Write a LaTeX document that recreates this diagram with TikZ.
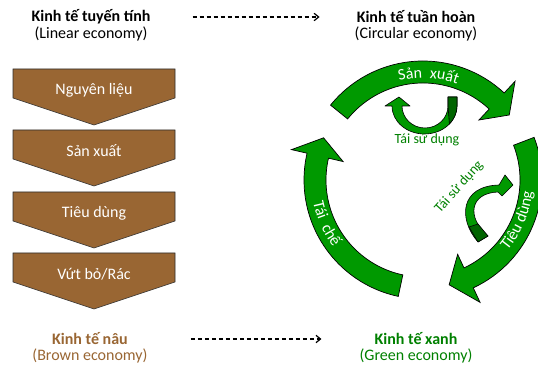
\documentclass[tikz,border=0pt]{standalone}
\usepackage{fontspec}
\setmainfont{Carlito}
\usepackage{tikz}
\usetikzlibrary{arrows.meta,decorations.text}
\definecolor{brownfill}{RGB}{153,102,51}
\definecolor{brownink}{RGB}{153,102,51}
\definecolor{ringfill}{RGB}{0,153,0}
\definecolor{greenink}{RGB}{0,128,0}
\definecolor{greendark}{RGB}{0,100,0}
\definecolor{lineedge}{RGB}{45,45,45}
\tikzset{
  chev/.style={draw=lineedge, fill=brownfill, line width=0.6pt, line join=miter},
  chevtext/.style={text=white, font=\fontsize{16}{18}\selectfont, inner sep=0pt},
  ring/.style={draw=black, fill=ringfill, line width=0.7pt, line join=miter},
  ribbon/.style={draw=black, fill=ringfill, line width=0.6pt, line join=round},
  ttl/.style={font=\fontsize{16}{18}\selectfont\bfseries, inner sep=0pt},
  subttl/.style={font=\fontsize{16}{18}\selectfont, inner sep=0pt},
  reuse/.style={text=greenink, font=\fontsize{14}{16}\selectfont, inner sep=0pt},
  dasharr/.style={-{Straight Barb[length=1.6mm,width=2.6mm]}, dash pattern=on 4.5pt off 2.5pt, line width=1.2pt},
  ringlabel/.style={decorate, decoration={text along path, text align=center,
    text={|\fontsize{16}{18}\selectfont\color{white}|#1}}}
}
\begin{document}
\begin{tikzpicture}[x=1pt, y=1pt]
  \useasboundingbox (0,0) rectangle (538,369);

  \node[ttl] (lin) at (91,352) {Kinh tế tuyến tính};
  \node[subttl] (linen) at (91,335) {(Linear economy)};
  \node[ttl] (circ) at (416,352) {Kinh tế tuần hoàn};
  \node[subttl] (circen) at (416,335) {(Circular economy)};
  \node[ttl, text=brownink] (brown) at (90,30) {Kinh tế nâu};
  \node[subttl, text=brownink] (brownen) at (90,13) {(Brown economy)};
  \node[ttl, text=greenink] (green) at (416,30) {Kinh tế xanh};
  \node[subttl, text=greenink] (greenen) at (416,13) {(Green economy)};
  \draw[dasharr, shorten <=42pt, shorten >=37pt] (lin.east) -- (circ.west);
  \draw[dasharr, shorten <=63pt, shorten >=53pt] (brown.east) -- (green.west);

  \foreach \n/\yy/\txt in {raw/300/Nguyên liệu, make/239/Sản xuất,
      use/177/Tiêu dùng, waste/116/{Vứt bỏ/Rác}} {
    \draw[chev] (13,\yy) -- (175,\yy) -- (175,\yy-29) -- (94,\yy-56)
      -- (13,\yy-29) -- cycle;
    \node[chevtext] (\n) at (94,\yy-21) {\txt};
  }

  \coordinate (c) at (423,189);
  \foreach \t/\b/\p in {141/47/37, 21/-65/-76, 258/167/157} {
    \draw[ring] ([shift={(\t:119)}]c) arc[start angle=\t, end angle=\b, radius=119]
      -- ([shift={(\b:135)}]c) -- ([shift={(\p:108)}]c) -- ([shift={(\b:82)}]c)
      -- ([shift={(\b:97)}]c) arc[start angle=\b, end angle=\t, radius=97] -- cycle;
  }
  \path[ringlabel={Sản {\ }xuất}] ([shift={(127:102)}]c)
    arc[start angle=127, end angle=47, radius=102];
  \path[ringlabel={Tiêu dùng}] ([shift={(-58:110)}]c)
    arc[start angle=-58, end angle=12, radius=110];
  \path[ringlabel={Tái {\ }chế}] ([shift={(169:112)}]c)
    arc[start angle=169, end angle=239, radius=112];

  \draw[ribbon] (457,272) -- (457,263)
    arc[start angle=0, end angle=-180, x radius=32.5, y radius=28]
    -- (385,263) -- (399,272) -- (410,263) -- (402,263)
    arc[start angle=180, end angle=360, x radius=23, y radius=22]
    -- (448,272) -- cycle;
  \draw[ribbon, fill=greendark] (448,272) -- (457,272) -- (457,263)
    arc[start angle=0, end angle=-40, x radius=32.5, y radius=28] -- (448,263) -- cycle;
  \node[reuse] (reuse1) at (427,229) {Tái sử dụng};

  \draw[ribbon] (478,127) .. controls (458,150) and (460,183) .. (499,184)
    -- (505,194) -- (513,184) -- (502,173) -- (498,177)
    .. controls (470,176) and (466,152) .. (488,133) -- cycle;
  \draw[ribbon, fill=greendark] (478,127) -- (488,133) -- (478,145) -- (469,142) -- cycle;
  \node[reuse, rotate=48] (reuse2) at (459,182) {Tái sử dụng};
\end{tikzpicture}
\end{document}
